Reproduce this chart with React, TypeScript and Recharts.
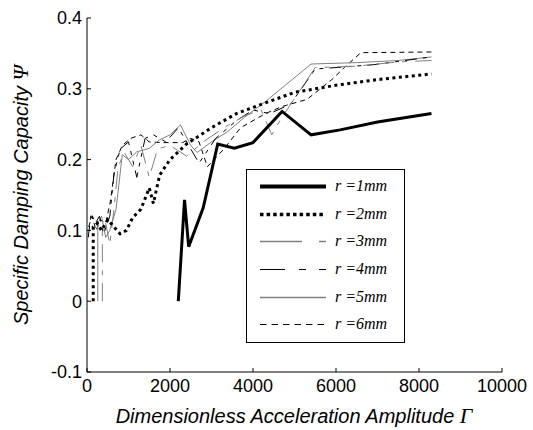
import React from 'react';
import { LineChart, Line, XAxis, YAxis, Legend } from 'recharts';

// ---- data ----
const xTicks = [0, 2000, 4000, 6000, 8000, 10000];
const yTicks = [-0.1, 0, 0.1, 0.2, 0.3, 0.4];

const r1X = [2200, 2350, 2450, 2800, 3150, 3550, 4000, 4700, 5400, 6100, 7000, 8300];
const r1Y = [0, 0.143, 0.077, 0.132, 0.222, 0.216, 0.224, 0.268, 0.235, 0.242, 0.253, 0.265];

const r2X = [150, 150, 250, 350, 500, 650, 800, 950, 1100, 1300, 1500, 1600, 1750, 2000, 2400, 3000, 3600, 4200, 5000, 6000, 7000, 8300];
const r2Y = [0, 0.105, 0.11, 0.1, 0.115, 0.105, 0.095, 0.1, 0.118, 0.13, 0.16, 0.138, 0.178, 0.2, 0.222, 0.245, 0.265, 0.278, 0.295, 0.305, 0.313, 0.321];

const r3X = [370, 370, 450, 550, 650, 750, 900, 1100, 1300, 1500, 1700, 2000, 2400, 2800, 3300, 3800, 4200, 4450, 4700, 5500, 6500, 7500, 8300];
const r3Y = [0, 0.1, 0.11, 0.08, 0.13, 0.19, 0.21, 0.19, 0.22, 0.175, 0.215, 0.22, 0.205, 0.225, 0.245, 0.262, 0.27, 0.235, 0.26, 0.33, 0.332, 0.338, 0.34];

const r4X = [30, 100, 200, 300, 400, 550, 650, 800, 1000, 1200, 1400, 1600, 1900, 2200, 2500, 2700, 3100, 3600, 4000, 4400, 4900, 5500, 6000, 6900, 8300];
const r4Y = [0.09, 0.125, 0.11, 0.12, 0.095, 0.12, 0.18, 0.215, 0.225, 0.175, 0.23, 0.235, 0.225, 0.245, 0.215, 0.195, 0.23, 0.255, 0.27, 0.265, 0.278, 0.328, 0.33, 0.334, 0.345];

const r5X = [260, 260, 350, 450, 550, 700, 850, 1000, 1200, 1500, 1750, 2000, 2250, 2500, 2650, 3000, 3400, 3800, 4300, 5400, 6500, 7500, 8300];
const r5Y = [0, 0.11, 0.12, 0.09, 0.1, 0.13, 0.207, 0.2, 0.211, 0.216, 0.228, 0.235, 0.249, 0.22, 0.21, 0.225, 0.24, 0.26, 0.282, 0.335, 0.337, 0.34, 0.345];

const r6X = [40, 120, 220, 320, 450, 560, 700, 850, 1050, 1300, 1500, 1800, 2300, 2500, 2700, 2900, 3300, 3700, 4300, 4700, 5300, 5900, 6200, 6600, 8300];
const r6Y = [0.105, 0.12, 0.1, 0.115, 0.11, 0.14, 0.2, 0.22, 0.23, 0.235, 0.225, 0.224, 0.224, 0.23, 0.225, 0.19, 0.215, 0.245, 0.265, 0.275, 0.285, 0.313, 0.33, 0.351, 0.352];

const seriesNames = ['r =1mm', 'r =2mm', 'r =3mm', 'r =4mm', 'r =5mm', 'r =6mm'];

const toPoints = (xs: number[], ys: number[]) => xs.map((x, i) => ({ x, y: ys[i] }));

// ---- styles ----
const SERIES = [
  { name: seriesNames[0], data: toPoints(r1X, r1Y), stroke: '#000', width: 3, dash: undefined as string | undefined, legendDash: undefined as string | undefined, legendWidth: 4 },
  { name: seriesNames[1], data: toPoints(r2X, r2Y), stroke: '#000', width: 3, dash: '3 3.5', legendDash: '3.5 3.1', legendWidth: 3.5 },
  { name: seriesNames[2], data: toPoints(r3X, r3Y), stroke: '#808080', width: 1, dash: '18 8 5 8', legendDash: '42 17 7', legendWidth: 1.3 },
  { name: seriesNames[3], data: toPoints(r4X, r4Y), stroke: '#000', width: 1, dash: '12 6 4 6 4 6', legendDash: '25 14 7 13 7', legendWidth: 1.1 },
  { name: seriesNames[4], data: toPoints(r5X, r5Y), stroke: '#808080', width: 1, dash: undefined, legendDash: undefined, legendWidth: 1.3 },
  { name: seriesNames[5], data: toPoints(r6X, r6Y), stroke: '#000', width: 1, dash: '5 4', legendDash: '6.5 5', legendWidth: 1 },
];

const sans = '"Liberation Sans", Arial, sans-serif';
const serif = '"Liberation Serif", "Times New Roman", serif';

const XTitle = () => (
  <text x={294} y={423} textAnchor="middle" fontFamily={sans} fontSize={20} fontStyle="italic" fill="#000">
    Dimensionless Acceleration Amplitude{' '}
    <tspan fontFamily={serif} fontSize={22}>Γ</tspan>
  </text>
);

const YTitle = () => (
  <text x={0} y={0} transform="translate(28,195) rotate(-90)" textAnchor="middle" fontFamily={sans} fontSize={20} fontStyle="italic" fill="#000">
    Specific Damping Capacity{' '}
    <tspan fontFamily={serif} fontSize={22}>Ψ</tspan>
  </text>
);

const LegendBox = () => (
  <div style={{ width: 159, height: 174, border: '1px solid #000', background: '#fff', boxSizing: 'border-box', paddingTop: 3 }}>
    {SERIES.map((s) => (
      <div key={s.name} style={{ height: 27.7, position: 'relative' }}>
        <svg width={80} height={27} style={{ position: 'absolute', left: 0, top: 0 }}>
          <line x1={13} x2={79} y1={13.5} y2={13.5} stroke={s.stroke} strokeWidth={s.legendWidth} strokeDasharray={s.legendDash} />
        </svg>
        <span style={{ position: 'absolute', left: 88, top: 3, fontFamily: serif, fontStyle: 'italic', fontSize: 16, lineHeight: '20px', color: '#000', whiteSpace: 'nowrap' }}>
          {s.name}
        </span>
      </div>
    ))}
  </div>
);

const tickStyle = { fontFamily: sans, fontSize: 18, fill: '#000' };

export default function App() {
  return (
    <div style={{ position: 'absolute', left: 0, top: 0, width: 533, height: 430, background: '#fff' }}>
      <LineChart width={533} height={430} margin={{ top: 18, right: 31, bottom: 0, left: 0 }}>
        <XAxis
          dataKey="x"
          type="number"
          domain={[0, 10000]}
          ticks={xTicks}
          interval={0}
          allowDataOverflow
          height={58}
          tickSize={-4}
          tickMargin={11}
          tick={tickStyle}
          stroke="#000"
          axisLine={{ stroke: '#000' }}
          tickLine={{ stroke: '#000' }}
          label={<XTitle />}
        />
        <XAxis
          xAxisId="top"
          orientation="top"
          dataKey="x"
          type="number"
          domain={[0, 10000]}
          ticks={xTicks}
          interval={0}
          height={0}
          tickSize={-4}
          tickFormatter={() => ''}
          axisLine={{ stroke: '#000' }}
          tickLine={{ stroke: '#000' }}
        />
        <YAxis
          type="number"
          domain={[-0.1, 0.4]}
          ticks={yTicks}
          interval={0}
          allowDataOverflow
          width={87}
          tickSize={-4}
          tickMargin={9}
          tick={tickStyle}
          axisLine={{ stroke: '#000' }}
          tickLine={{ stroke: '#000' }}
          label={<YTitle />}
        />
        <YAxis
          yAxisId="right"
          orientation="right"
          type="number"
          domain={[-0.1, 0.4]}
          ticks={yTicks}
          interval={0}
          width={0}
          tickSize={-4}
          tickFormatter={() => ''}
          axisLine={{ stroke: '#000' }}
          tickLine={{ stroke: '#000' }}
        />
        {SERIES.slice().reverse().map((s) => (
          <Line
            key={s.name}
            data={s.data}
            dataKey="y"
            name={s.name}
            type="linear"
            stroke={s.stroke}
            strokeWidth={s.width}
            strokeDasharray={s.dash}
            dot={false}
            activeDot={false}
            isAnimationActive={false}
          />
        ))}
        <Legend
          content={() => <LegendBox />}
          layout="vertical"
          align="center"
          verticalAlign="middle"
          wrapperStyle={{ position: 'absolute', left: 246, top: 169, width: 159, height: 174 }}
        />
      </LineChart>
    </div>
  );
}
